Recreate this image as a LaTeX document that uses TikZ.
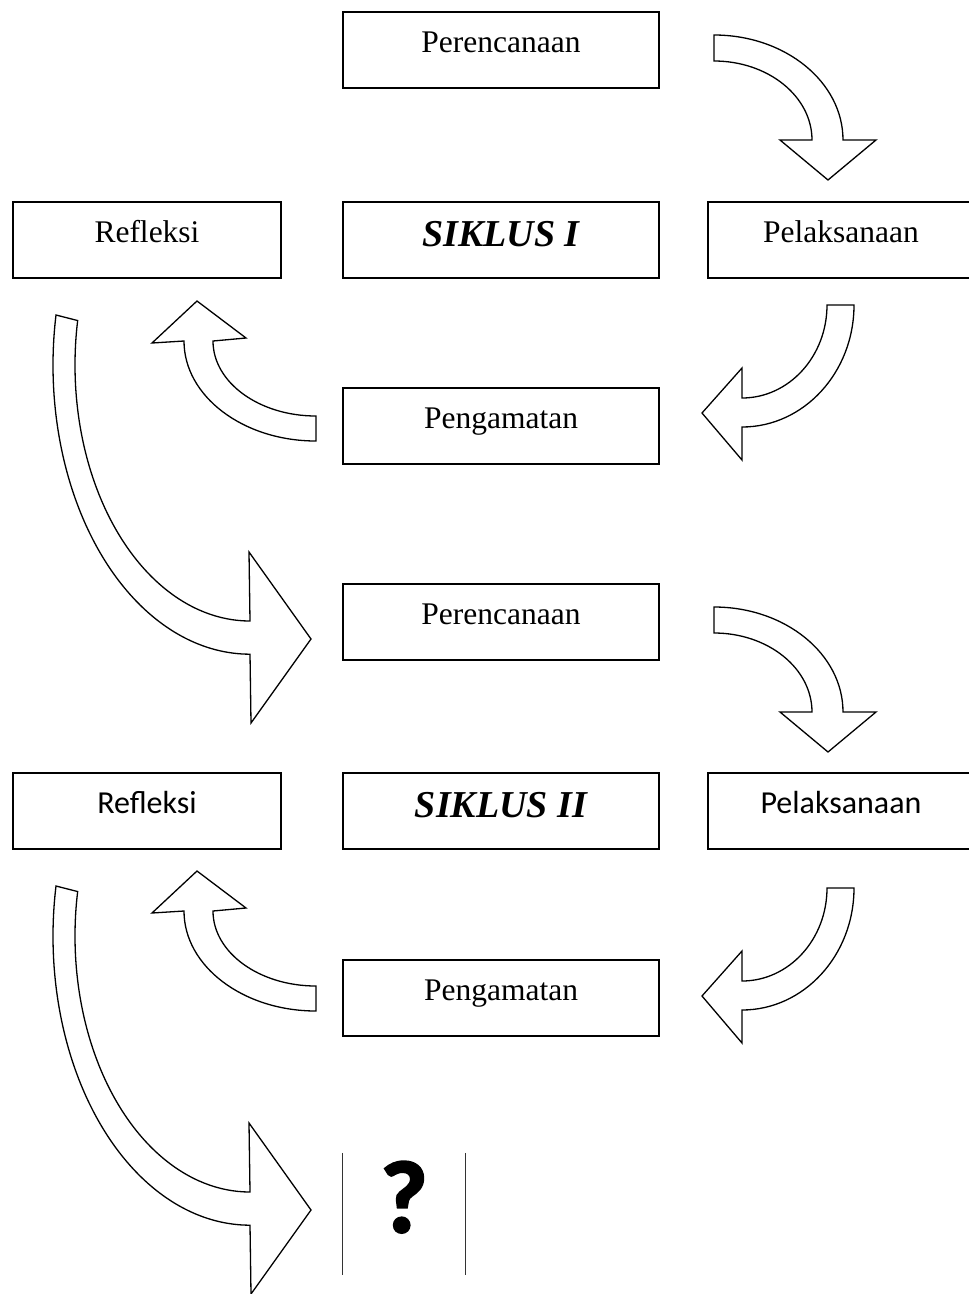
\documentclass[tikz,border=0pt]{standalone}
\usepackage{fontspec}
\setmainfont{Liberation Serif}
\newfontfamily\calfont{Carlito}
\newfontfamily\calbold{Carlito}[UprightFont={* Bold}, FakeBold=2.5]
\usepackage{tikz}
\usetikzlibrary{positioning,calc}
\tikzset{
  % --- boxes
  box/.style   = {draw=black, line width=1.6pt, fill=white, inner sep=0pt,
                  minimum width=316pt, minimum height=76pt,
                  text height=24pt, text depth=20pt,
                  font=\fontsize{31.5}{36}\selectfont},
  sidebox/.style = {box, minimum width=268pt},
  cyc/.style   = {box, text height=28pt, text depth=16pt,
                  font=\fontsize{38}{44}\selectfont\bfseries\itshape},
  cal/.style   = {font=\fontsize{32}{36}\selectfont\calfont},
  % --- block arrows
  blk/.style   = {draw=black, fill=white, line width=1.3pt, line join=miter},
  thinline/.style = {draw=black!80, line width=0.9pt},
}
\begin{document}
\begin{tikzpicture}[x=1pt,y=-1pt]
  \useasboundingbox (0,0) rectangle (969,1294);

  % cycle I
  \node[box] (per1) at (501,50) {Perencanaan};
  \node[sidebox] (ref1) at (147,240) {Refleksi};
  \node[cyc] (sik1) at (501,240) {SIKLUS I};
  \node[box, minimum width=266pt] (pel1) at (841,240) {Pelaksanaan};
  \node[box] (pen1) at (501,426) {Pengamatan};

  % cycle II
  \node[box] (per2) at (501,622) {Perencanaan};
  \node[sidebox, cal] (ref2) at (147,811) {Refleksi};
  \node[cyc] (sik2) at (501,811) {SIKLUS II};
  \node[box, cal, minimum width=266pt] (pel2) at (841,811) {Pelaksanaan};
  \node[box] (pen2) at (501,998) {Pengamatan};

  % open end
  \node[inner sep=0pt, minimum width=122pt, minimum height=122pt,
        text height=66pt, text depth=30pt,
        font=\fontsize{102}{106}\selectfont\calbold] (q) at (404,1214) {?};
  \draw[thinline] (q.north west) -- (q.south west);
  \draw[thinline] (q.north east) -- (q.south east);

  % curved block arrows, one set per cycle
  \foreach \da/\db/\dc/\dd in {0/0/0/0, 572/583/570/571}{
    % plan -> act
    \draw[blk, shift={(0,\da)}] (714,35)
      arc[start angle=-90, end angle=0, x radius=129, y radius=105]
      -- (876,140) -- (828,180) -- (780,140) -- (812,140)
      arc[start angle=0, end angle=-90, x radius=98, y radius=79] -- cycle;
    % act -> observe
    \draw[blk, shift={(0,\db)}] (854,305)
      arc[start angle=0, end angle=90, x radius=112, y radius=122]
      -- (742,460) -- (702,413) -- (742,368) -- (742,398)
      arc[start angle=90, end angle=0, x radius=85, y radius=93] -- cycle;
    % observe -> reflect
    \draw[blk, shift={(0,\dc)}] (316,441)
      arc[start angle=90, end angle=180, x radius=132, y radius=100]
      -- (152,343) -- (197,301) -- (246,338) -- (213,341)
      arc[start angle=180, end angle=90, x radius=103, y radius=75] -- cycle;
    % reflect -> next
    \draw[blk, shift={(0,\dd)}] (56,315)
      arc[start angle=190, end angle=90, x radius=197, y radius=289]
      -- (251,723) -- (311,639) -- (249,552) -- (250,621)
      arc[start angle=90, end angle=190, x radius=175, y radius=256] -- cycle;
  }
\end{tikzpicture}
\end{document}
